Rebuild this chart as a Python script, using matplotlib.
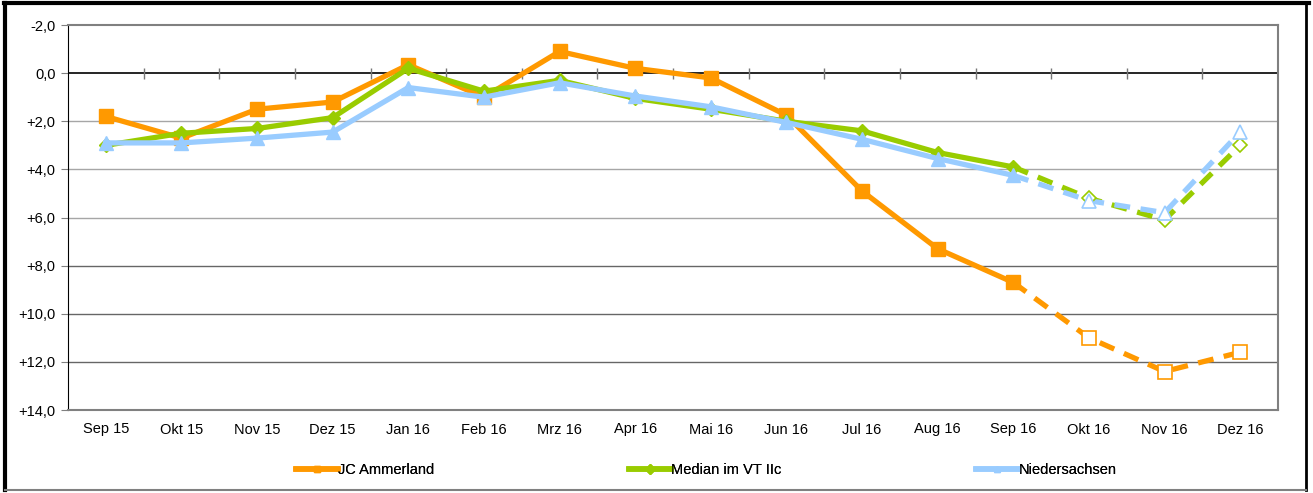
import numpy as np
import matplotlib
matplotlib.use("Agg")
import matplotlib.pyplot as plt
from matplotlib.lines import Line2D
from matplotlib.ticker import FuncFormatter

plt.rcParams['font.family'] = ['Liberation Sans', 'DejaVu Sans']
plt.rcParams['font.size'] = 10.5

months = ["Sep 15", "Okt 15", "Nov 15", "Dez 15", "Jan 16", "Feb 16", "Mrz 16", "Apr 16",
          "Mai 16", "Jun 16", "Jul 16", "Aug 16", "Sep 16", "Okt 16", "Nov 16", "Dez 16"]

jc_ammerland = [1.8, 2.7, 1.5, 1.2, -0.35, 1.0, -0.9, -0.2, 0.2, 1.75, 4.9, 7.3, 8.7, 11.0, 12.4, 11.6]
median_vt = [3.0, 2.5, 2.3, 1.85, -0.2, 0.75, 0.3, 1.05, 1.5, 2.0, 2.4, 3.3, 3.9, 5.2, 6.1, 3.0]
niedersachsen = [2.9, 2.9, 2.7, 2.45, 0.6, 1.0, 0.4, 0.95, 1.4, 2.05, 2.75, 3.55, 4.25, 5.3, 5.8, 2.45]

names = ["JC Ammerland", "Median im VT IIc", "Niedersachsen"]
colors = ["#FF9900", "#99CC00", "#99CCFF"]
markers = ["s", "D", "^"]
msizes = [10, 7, 10]

# last real month, after that: forecast (dashed, hollow markers)
split = 12

fig = plt.figure(figsize=(13.13, 4.93), dpi=100)
ax = fig.add_axes([68 / 1313, 1 - 410 / 493, 1210 / 1313, 385 / 493])

x = np.arange(len(months))

# gridlines
for g in [2, 4, 6]:
    ax.axhline(g, color="#A6A6A6", lw=1.0, zorder=1)
for g in [8, 10, 12]:
    ax.axhline(g, color="#666666", lw=1.0, zorder=1)
ax.axhline(0, color="black", lw=1.2, zorder=2)
ax.vlines(np.arange(0.5, len(months) - 1), -0.2, 0.25, color="#777777", lw=1.0, zorder=2)

series = [jc_ammerland, median_vt, niedersachsen]
for vals, c, m, ms in zip(series, colors, markers, msizes):
    vals = np.array(vals)
    ax.plot(x[:split + 1], vals[:split + 1], color=c, lw=3.8, marker=m, ms=ms,
            mfc=c, mec=c, zorder=3)
    ax.plot(x[split:], vals[split:], color=c, lw=3.8, ls=(0, (3, 2)), zorder=3)
    ax.plot(x[split + 1:], vals[split + 1:], ls="none", marker=m, ms=ms,
            mfc="white", mec=c, mew=1.2, zorder=4)

ax.set_xlim(-0.5, len(months) - 0.5)
ax.set_ylim(14, -2)
ax.set_yticks(np.arange(-2, 15, 2))


def fmt(v, pos):
    s = "%.1f" % abs(v)
    s = s.replace(".", ",")
    if v > 0:
        return "+" + s
    if v < 0:
        return "-" + s
    return s


ax.yaxis.set_major_formatter(FuncFormatter(fmt))
ax.set_xticks(x)
ax.set_xticklabels(months)
ax.tick_params(axis="x", length=0, pad=9)
ax.tick_params(axis="y", length=5, color="#808080", pad=4)

ax.spines["left"].set_color("black")
for s in ["top", "right", "bottom"]:
    ax.spines[s].set_color("#808080")
    ax.spines[s].set_linewidth(1.5)

# legend: one entry each, spread along the bottom
leg_x = [296 / 1313, 629 / 1313, 976 / 1313]
for name, c, m, lx in zip(names, colors, markers, leg_x):
    h = Line2D([], [], color=c, lw=4, marker=m, ms=5, mfc=c, mec=c)
    lg = fig.legend([h], [name], loc="center left", bbox_to_anchor=(lx, 0.047),
                    frameon=False, handlelength=2.9, handletextpad=0.0,
                    borderpad=0, borderaxespad=0)
    fig.add_artist(lg)

# outer frame
fig.add_artist(Line2D([0.003, 0.997], [0.994, 0.994], color="black", lw=3, transform=fig.transFigure))
fig.add_artist(Line2D([0.004, 0.004], [0.006, 0.994], color="black", lw=3, transform=fig.transFigure))
fig.add_artist(Line2D([0.995, 0.995], [0.006, 0.994], color="black", lw=2, transform=fig.transFigure))
fig.add_artist(Line2D([0.004, 0.995], [0.006, 0.006], color="#808080", lw=1.5, transform=fig.transFigure))

fig.savefig("out.png", dpi=100)
